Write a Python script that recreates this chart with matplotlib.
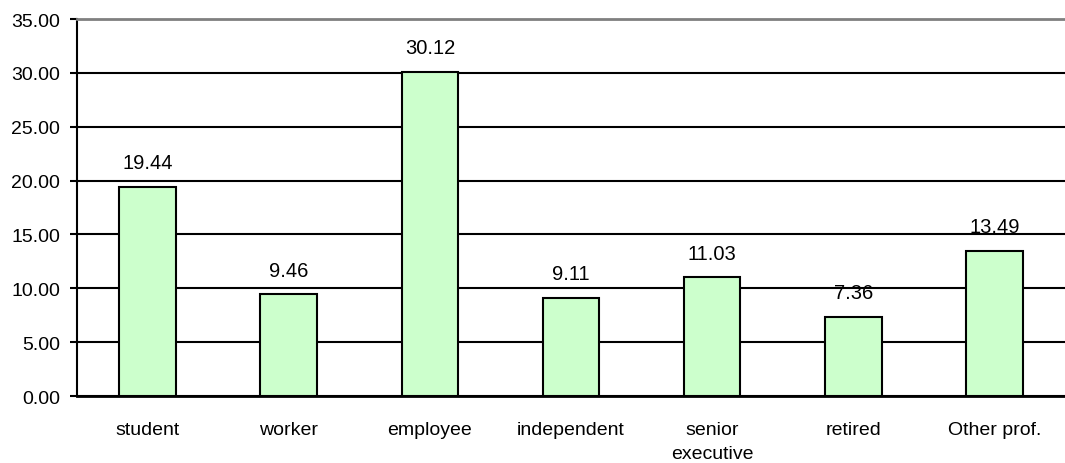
import matplotlib.pyplot as plt
import numpy as np

plt.rcParams['font.family'] = ['Liberation Sans', 'DejaVu Sans']

categories = ["student", "worker", "employee", "independent", "senior\nexecutive", "retired", "Other prof."]
values = [19.44, 9.46, 30.12, 9.11, 11.03, 7.36, 13.49]
yticks = [0, 5, 10, 15, 20, 25, 30, 35]

fig = plt.figure(figsize=(10.65, 4.64), dpi=100)
ax = fig.add_axes([77/1065, 1-397/464, 988/1065, 377/464])

x = np.arange(len(categories))
ax.bar(x, values, width=0.4, color="#ccffcc", edgecolor="black", linewidth=1.5, zorder=3)
for xi, v in zip(x, values):
    ax.text(xi, v + 1.35, "%.2f" % v, ha="center", va="bottom", fontsize=14.5)

ax.set_xlim(-0.5, len(categories) - 0.5)
ax.set_ylim(0, 35)
ax.set_yticks(yticks)
ax.set_yticklabels(["%.2f" % t for t in yticks], fontsize=14)
ax.yaxis.grid(True, color="black", linewidth=1.5, zorder=0)
ax.set_xticks(x)
ax.set_xticklabels(categories, fontsize=14, linespacing=1.55)
ax.tick_params(axis="x", length=0, pad=18)
ax.tick_params(axis="y", length=5, width=1.5, pad=7)

ax.spines["right"].set_visible(False)
ax.spines["top"].set_color("#808080")
ax.spines["top"].set_linewidth(2)
ax.spines["left"].set_linewidth(1.5)
ax.spines["bottom"].set_linewidth(2)

fig.savefig("out.png", dpi=100)
